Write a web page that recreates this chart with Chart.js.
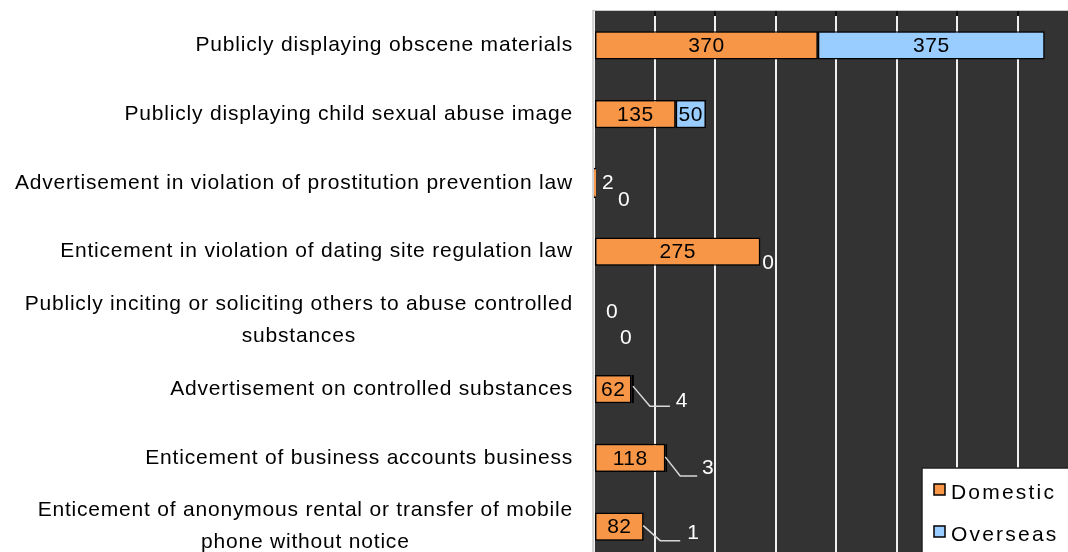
<!DOCTYPE html>
<html>
<head>
<meta charset="utf-8">
<script src="https://cdn.jsdelivr.net/npm/chart.js@4.4.1/dist/chart.umd.min.js"></script>
<style>
  html, body { margin: 0; padding: 0; background: #ffffff; overflow: hidden; width: 1068px; height: 552px; }
  #wrap { position: absolute; left: 0; top: 0; width: 1100px; height: 570px; }
</style>
</head>
<body>
<div id="wrap"><canvas id="c" width="1100" height="570"></canvas></div>
<script>
// ---- data ----
const categories = [
  ["Publicly displaying obscene materials"],
  ["Publicly displaying child sexual abuse image"],
  ["Advertisement in violation of prostitution prevention law"],
  ["Enticement in violation of dating site regulation law"],
  ["Publicly inciting or soliciting others to abuse controlled", "substances"],
  ["Advertisement on controlled substances"],
  ["Enticement of business accounts business"],
  ["Enticement of anonymous rental or transfer of mobile", "phone without notice"]
];
const seriesNames = ["Domestic", "Overseas"];
const domestic = [370, 135, 2, 275, 0, 62, 118, 82];
const overseas = [375, 50, 0, 0, 0, 4, 3, 1];
const xTickValues = [0, 100, 200, 300, 400, 500, 600, 700, 800];

// ---- styles (label placement relative to bar ends) ----
const colors = ["#F79646", "#99CCFF"];
const CAT_FONT = "21px 'Liberation Sans', Arial, sans-serif";
const VAL_FONT = "21px 'Liberation Sans', Arial, sans-serif";
// [datasetIndex][categoryIndex]
const labelPlacement = [
  [ {in:true},{in:true},{dx:13,dy:0},{in:true},{dx:18,dy:-8},{in:true},{in:true},{in:true} ],
  [ {in:true},{in:true},{dx:29,dy:17},{dx:8,dy:12},{dx:32,dy:18},
    {dx:48,dy:12,leader:[[-1,-3],[16,17],[36,17]]},
    {dx:41,dy:10,leader:[[-2,-1],[13,18],[30,18]]},
    {dx:49,dy:7,leader:[[-1,-1],[16,14],[36,14]]} ]
];

const plotBg = {
  id: 'plotBg',
  beforeDraw(chart) {
    const {ctx, chartArea: a} = chart;
    ctx.save();
    ctx.fillStyle = '#333333';
    ctx.fillRect(a.left, a.top, a.right - a.left, a.bottom - a.top);
    ctx.restore();
  },
  beforeDatasetsDraw(chart) {
    const {ctx, chartArea: a} = chart;
    ctx.save();
    ctx.strokeStyle = '#c8c8c8';
    ctx.lineWidth = 1.5;
    ctx.beginPath();
    ctx.moveTo(a.left - 1, a.top - 1);
    ctx.lineTo(a.left - 1, a.bottom);
    ctx.stroke();
    ctx.beginPath();
    ctx.moveTo(a.left - 2, a.top - 0.5);
    ctx.lineTo(a.right, a.top - 0.5);
    ctx.lineWidth = 1;
    ctx.stroke();
    const xs = chart.scales.x;
    ctx.strokeStyle = '#111';
    ctx.lineWidth = 2;
    xTickValues.forEach(v => {
      if (v === 0) return;
      const px = Math.round(xs.getPixelForValue(v));
      ctx.beginPath();
      ctx.moveTo(px, a.top);
      ctx.lineTo(px, a.top + 5);
      ctx.stroke();
    });
    ctx.restore();
  }
};

const catLabels = {
  id: 'catLabels',
  afterDraw(chart) {
    const {ctx, chartArea: a} = chart;
    const ys = chart.scales.y;
    ctx.save();
    ctx.font = CAT_FONT;
    if ('letterSpacing' in ctx) ctx.letterSpacing = '0.8px';
    ctx.fillStyle = '#000';
    ctx.textBaseline = 'middle';
    const rightX = a.left - 21;
    categories.forEach((lines, i) => {
      const cy = ys.getPixelForValue(i);
      const lh = 32;
      const widths = lines.map(l => ctx.measureText(l).width);
      const maxW = Math.max(...widths);
      const centerX = rightX - maxW / 2;
      lines.forEach((l, j) => {
        const y = cy + (j - (lines.length - 1) / 2) * lh;
        ctx.textAlign = 'center';
        ctx.fillText(l, centerX, y);
      });
    });
    ctx.restore();
  }
};

const valueLabels = {
  id: 'valueLabels',
  afterDatasetsDraw(chart) {
    const {ctx} = chart;
    ctx.save();
    ctx.font = VAL_FONT;
    if ('letterSpacing' in ctx) ctx.letterSpacing = '0.5px';
    ctx.textBaseline = 'middle';
    ctx.textAlign = 'center';
    chart.data.datasets.forEach((ds, di) => {
      const meta = chart.getDatasetMeta(di);
      meta.data.forEach((el, i) => {
        const p = labelPlacement[di][i];
        const v = ds.data[i];
        if (p.in) {
          ctx.fillStyle = '#000';
          ctx.fillText(String(v), (el.x + el.base) / 2, el.y + 1);
        } else {
          const ex = Math.max(el.x, el.base);
          if (p.leader) {
            ctx.strokeStyle = '#d8d8d8';
            ctx.lineWidth = 1.5;
            ctx.beginPath();
            p.leader.forEach((pt, k) => {
              const X = ex + pt[0], Y = el.y + pt[1];
              if (k === 0) ctx.moveTo(X, Y); else ctx.lineTo(X, Y);
            });
            ctx.stroke();
          }
          ctx.fillStyle = '#ffffff';
          ctx.fillText(String(v), ex + p.dx, el.y + p.dy);
        }
      });
    });
    ctx.restore();
  }
};

const legendBox = {
  id: 'legendBox',
  afterDraw(chart) {
    const {ctx} = chart;
    ctx.save();
    const bx = 922, by = 468, bw = 160, bh = 100;
    ctx.fillStyle = '#ffffff';
    ctx.fillRect(bx, by, bw, bh);
    ctx.strokeStyle = '#222';
    ctx.lineWidth = 1.5;
    ctx.strokeRect(bx, by, bw, bh);
    ctx.font = CAT_FONT;
    ctx.textBaseline = 'middle';
    ctx.textAlign = 'left';
    if ('letterSpacing' in ctx) ctx.letterSpacing = '2.2px';
    seriesNames.forEach((n, i) => {
      const cy = 491 + i * 42;
      ctx.fillStyle = colors[i];
      ctx.fillRect(934, cy - 7, 11, 11);
      ctx.strokeStyle = '#000';
      ctx.lineWidth = 1.5;
      ctx.strokeRect(934, cy - 7, 11, 11);
      ctx.fillStyle = '#000';
      ctx.fillText(n, 951, cy + 2);
    });
    ctx.restore();
  }
};

new Chart(document.getElementById('c'), {
  type: 'bar',
  data: {
    labels: categories,
    datasets: [
      { label: seriesNames[0], data: domestic, backgroundColor: colors[0], borderColor: '#000',
        borderWidth: ctx => ctx.raw === 0 ? 0 : 1.5, borderSkipped: false,
        inflateAmount: ctx => (ctx.raw > 0 && ctx.raw < 5) ? 1 : 'auto' },
      { label: seriesNames[1], data: overseas, backgroundColor: colors[1], borderColor: '#000',
        borderWidth: ctx => ctx.raw === 0 ? 0 : 1.5, borderSkipped: false }
    ]
  },
  options: {
    indexAxis: 'y',
    responsive: false,
    animation: false,
    devicePixelRatio: 1,
    layout: { padding: { left: 594, top: 11, right: 22, bottom: 9 } },
    datasets: { bar: { barPercentage: 0.41, categoryPercentage: 1.0 } },
    scales: {
      x: {
        stacked: true, position: 'top', min: 0, max: 800,
        afterBuildTicks: s => { s.ticks = xTickValues.map(v => ({value: v})); },
        ticks: { display: false },
        grid: { color: '#f0f0f0', lineWidth: 2, drawTicks: false },
        border: { display: false }
      },
      y: {
        stacked: true,
        ticks: { display: false },
        grid: { display: false, drawTicks: false },
        border: { display: false }
      }
    },
    plugins: { legend: { display: false }, tooltip: { enabled: false } }
  },
  plugins: [plotBg, valueLabels, catLabels, legendBox]
});
</script>
</body>
</html>
